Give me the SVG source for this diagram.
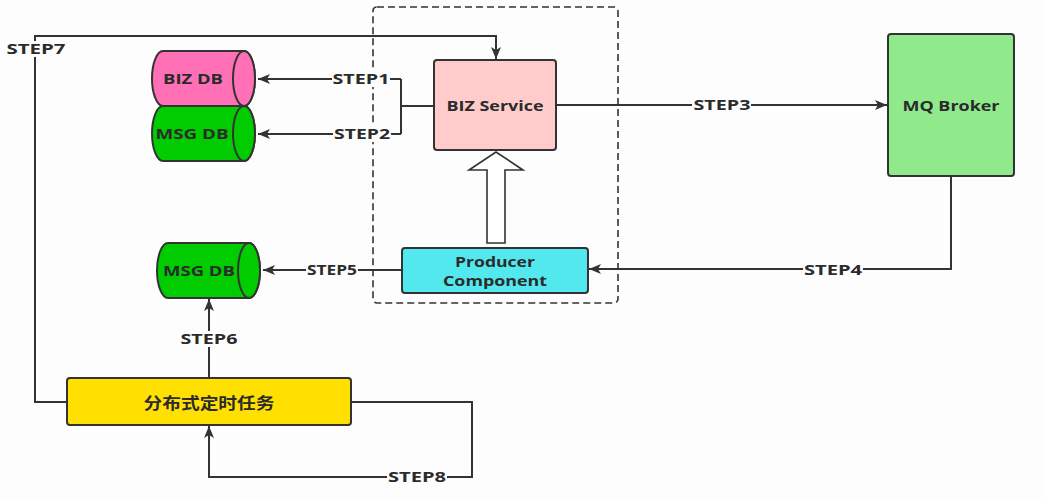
<svg xmlns="http://www.w3.org/2000/svg" width="1043" height="499" viewBox="0 0 1043 499">
<defs>
<marker id="ah" viewBox="0 0 12 10" refX="12" refY="5" markerWidth="12" markerHeight="10" markerUnits="userSpaceOnUse" orient="auto">
<path d="M0,0 L12,5 L0,10 L3,5 Z" fill="#333"/>
</marker>
<style>
.t{font-family:"Open Sans","Liberation Sans",sans-serif;font-weight:bold;font-size:15px;fill:#2b2b2b;text-anchor:middle;}
.s{font-size:14px;}
.cn{font-family:"Noto Sans CJK SC","Open Sans",sans-serif;font-weight:bold;font-size:16px;fill:#2b2b2b;text-anchor:middle;}
.n{stroke:#333;stroke-width:2;}
.c{fill:none;stroke:#333;stroke-width:2;}
.lb{fill:#fdfdfd;}
</style>
</defs>
<rect width="1043" height="499" fill="#fdfdfd"/>
<rect x="373" y="7" width="245" height="296" rx="4" fill="none" stroke="#333" stroke-width="1.6" stroke-dasharray="7 4"/>
<g id="connectors">
<path class="c" d="M401,79 H258" marker-end="url(#ah)"/>
<path class="c" d="M401,134 H258" marker-end="url(#ah)"/>
<path class="c" d="M401,79 V134 M401,106 H434"/>
<path class="c" d="M556,105 H887" marker-end="url(#ah)"/>
<path class="c" d="M951,176 V269 H589" marker-end="url(#ah)"/>
<path class="c" d="M402,270 H263" marker-end="url(#ah)"/>
<path class="c" d="M209,378 V299" marker-end="url(#ah)"/>
<path class="c" d="M67,402 H35 V36 H496 V59" marker-end="url(#ah)"/>
<path class="c" d="M351,402 H472 V477 H209 V426" marker-end="url(#ah)"/>
<rect class="lb" x="332" y="71" width="58" height="16"/>
<text class="t" x="361" y="84" textLength="57" lengthAdjust="spacingAndGlyphs">STEP1</text>
<rect class="lb" x="333" y="126" width="58" height="16"/>
<text class="t" x="362" y="139" textLength="56" lengthAdjust="spacingAndGlyphs">STEP2</text>
<rect class="lb" x="692" y="97" width="59" height="16"/>
<text class="t" x="722" y="110" textLength="57" lengthAdjust="spacingAndGlyphs">STEP3</text>
<rect class="lb" x="803" y="261" width="60" height="16"/>
<text class="t" x="833" y="275" textLength="58" lengthAdjust="spacingAndGlyphs">STEP4</text>
<rect class="lb" x="306" y="262" width="52" height="16"/>
<text class="t" x="332" y="275" textLength="50" lengthAdjust="spacingAndGlyphs">STEP5</text>
<rect class="lb" x="180" y="331" width="59" height="16"/>
<text class="t" x="209" y="344" textLength="57" lengthAdjust="spacingAndGlyphs">STEP6</text>
<rect class="lb" x="6" y="41" width="61" height="16"/>
<text class="t" x="36" y="54" textLength="59" lengthAdjust="spacingAndGlyphs">STEP7</text>
<rect class="lb" x="387" y="469" width="60" height="16"/>
<text class="t" x="417" y="482" textLength="58" lengthAdjust="spacingAndGlyphs">STEP8</text>
</g>
<g id="biz-db">
<path class="n" fill="#ff70b6" d="M163,51 H244 A11,27.5 0 0 1 244,106 H163 A11,27.5 0 0 1 163,51 Z"/>
<ellipse class="n" fill="#ff70b6" cx="244" cy="78.5" rx="11" ry="27.5"/>
<text class="t" x="193" y="84" textLength="60" lengthAdjust="spacingAndGlyphs">BIZ DB</text>
</g>
<g id="msg-db-1">
<path class="n" fill="#00cc00" d="M163,106 H244 A11,27.5 0 0 1 244,161 H163 A11,27.5 0 0 1 163,106 Z"/>
<ellipse class="n" fill="#00cc00" cx="244" cy="133.5" rx="11" ry="27.5"/>
<text class="t" x="192" y="139" textLength="73" lengthAdjust="spacingAndGlyphs">MSG DB</text>
</g>
<g id="biz-service">
<rect class="n" x="434" y="60" width="122" height="90" rx="3" fill="#ffcccb"/>
<text class="t" x="495" y="111" textLength="97" lengthAdjust="spacingAndGlyphs">BIZ Service</text>
</g>
<g id="hollow-arrow">
<polygon points="487,243 505,243 505,170 523,170 496,152 469,170 487,170" fill="#ffffff" stroke="#333" stroke-width="1.6"/>
</g>
<g id="mq-broker">
<rect class="n" x="888" y="34" width="126" height="142" rx="3" fill="#90e98b"/>
<text class="t" x="951" y="111" textLength="97" lengthAdjust="spacingAndGlyphs">MQ Broker</text>
</g>
<g id="producer-component">
<rect class="n" x="402" y="248" width="186" height="45" rx="3" fill="#53e8ee"/>
<text class="t s" x="495" y="267" textLength="80" lengthAdjust="spacingAndGlyphs">Producer</text>
<text class="t s" x="495" y="286" textLength="104" lengthAdjust="spacingAndGlyphs">Component</text>
</g>
<g id="msg-db-2">
<path class="n" fill="#00cc00" d="M168,243 H249 A11,27.5 0 0 1 249,298 H168 A11,27.5 0 0 1 168,243 Z"/>
<ellipse class="n" fill="#00cc00" cx="249" cy="270.5" rx="11" ry="27.5"/>
<text class="t" x="199" y="276" textLength="72" lengthAdjust="spacingAndGlyphs">MSG DB</text>
</g>
<g id="scheduled-task">
<rect class="n" x="67" y="378" width="284" height="47" rx="3" fill="#ffe000"/>
<text class="cn" x="209" y="409" textLength="131" lengthAdjust="spacingAndGlyphs">分布式定时任务</text>
</g>
</svg>
